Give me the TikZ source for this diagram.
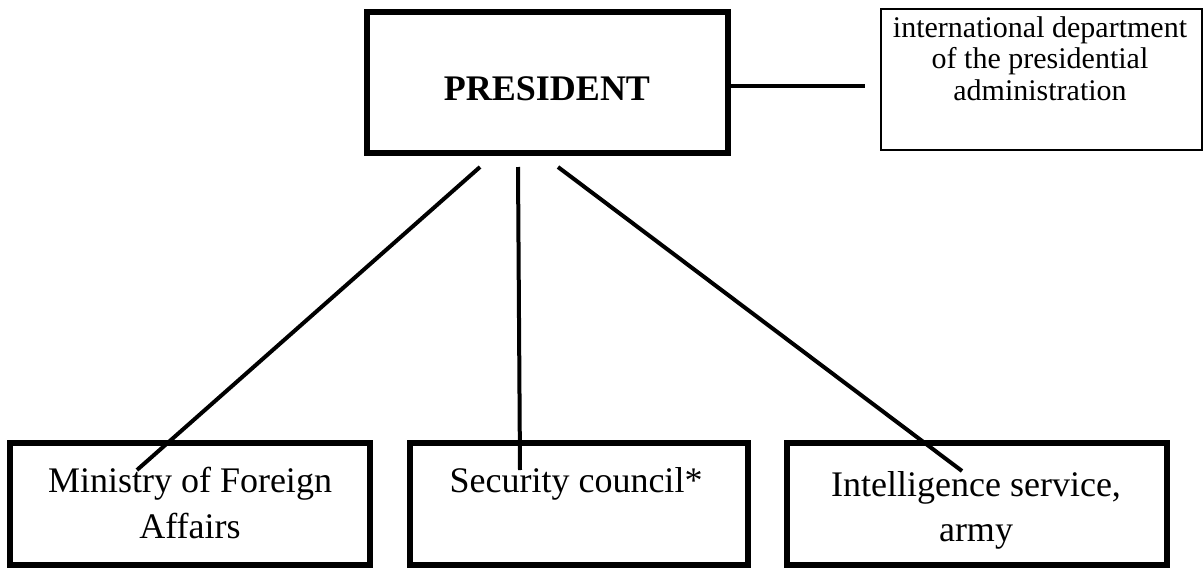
\documentclass[tikz,border=0pt]{standalone}
\usepackage{fontspec}
\setmainfont{Liberation Serif}
\begin{document}
\begin{tikzpicture}[x=1pt,y=-1pt,
  bigbox/.style={draw, line width=6pt, inner sep=0pt},
  unitbox/.style={draw, line width=5.5pt, inner sep=0pt, minimum height=122pt},
  thinbox/.style={draw, line width=2pt, inner sep=0pt},
  link/.style={line width=4pt},
  lbl/.style={anchor=base, inner sep=0pt, font=\fontsize{36}{40}\selectfont},
  small/.style={anchor=base, inner sep=0pt, font=\fontsize{30}{32}\selectfont}]
\path[use as bounding box] (0,0) rectangle (1203,568);
% top boxes
\node[bigbox, minimum width=361pt, minimum height=141pt] (pres) at (547.5,82.5) {};
\node[anchor=base, inner sep=0pt, font=\bfseries\fontsize{36}{40}\selectfont] (prest) at (547,100) {PRESIDENT};
\node[thinbox, minimum width=321pt, minimum height=141pt] (intl) at (1041,79.5) {};
\node[small] (intl1) at (1040,37) {international department};
\node[small] (intl2) at (1040,68.5) {of the presidential};
\node[small] (intl3) at (1040,100) {administration};
% bottom boxes
\node[unitbox, minimum width=360pt] (mfa) at (190,504) {};
\node[lbl] (mfa1) at (190,492) {Ministry of Foreign};
\node[lbl] (mfa2) at (190,538) {Affairs};
\node[unitbox, minimum width=338pt] (sec) at (579,504) {};
\node[lbl] (sec1) at (576,492) {Security council*};
\node[unitbox, minimum width=380pt] (intel) at (977,504) {};
\node[lbl] (intel1) at (976,496) {Intelligence service,};
\node[lbl] (intel2) at (976,541) {army};
% connector ends
\coordinate (hE) at (865,86);
\coordinate (pL) at (480,167);
\coordinate (pM) at (518,167);
\coordinate (pR) at (558,167);
\coordinate (eL) at (137,470);
\coordinate (eM) at (520,470);
\coordinate (eR) at (962,471);
% connectors
\draw[link] (pres.east |- hE) -- (hE);
\draw[link] (pL) -- (eL);
\draw[link] (pM) -- (eM);
\draw[link] (pR) -- (eR);
\end{tikzpicture}
\end{document}
